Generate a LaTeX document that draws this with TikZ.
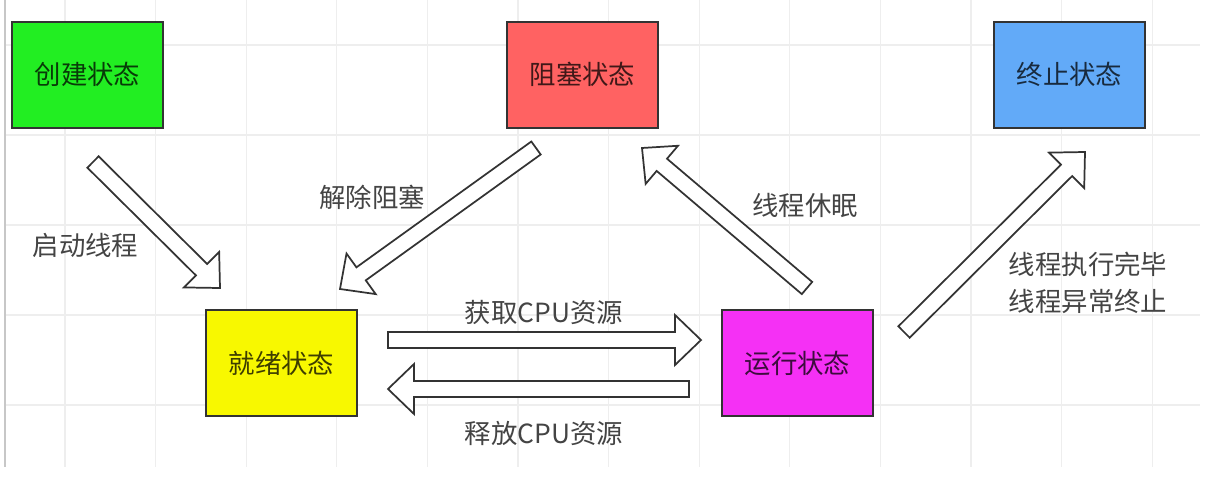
\documentclass[tikz,border=0pt]{standalone}
\usepackage{fontspec}
\setmainfont{Noto Sans CJK SC}
\usetikzlibrary{calc}
\definecolor{cgreen}{HTML}{22EE22}
\definecolor{cred}{HTML}{FF6262}
\definecolor{cblue}{HTML}{62AAF8}
\definecolor{cyellow}{HTML}{F8F800}
\definecolor{cmagenta}{HTML}{F530F5}
\definecolor{edge}{HTML}{333333}
\definecolor{labelgray}{HTML}{444444}
\definecolor{gridc}{HTML}{EEEEEE}
\tikzset{
  statebox/.style={draw=edge, line width=1.5pt, minimum width=113pt, minimum height=79.5pt,
    inner sep=0pt, text=black, text opacity=0.75, font=\fontsize{19.8}{23}\selectfont},
  lbl/.style={text=labelgray, font=\fontsize{19.8}{27.75}\selectfont, inner sep=0pt},
  blockarrow/.style={draw=edge, fill=white, line width=1.3pt, line join=miter},
  gridline/.style={draw=gridc, line width=0.8pt}
}
\newcommand\hollowarrow[3]{%
  \coordinate (#1b) at ($(#3)!19.5pt!(#2)$);
  \draw[blockarrow] ($(#2)!6pt!90:(#3)$) -- ($(#1b)!6pt!90:(#3)$) -- ($(#1b)!18.75pt!90:(#3)$) -- (#3)
    -- ($(#1b)!18.75pt!-90:(#3)$) -- ($(#1b)!6pt!-90:(#3)$) -- ($(#2)!6pt!-90:(#3)$) -- cycle;}
\begin{document}
\begin{tikzpicture}[x=0.75pt, y=-0.75pt]
\useasboundingbox (0,0) rectangle (1226,479);
\fill[white] (0,0) rectangle (1226,479);
% grid
\foreach \i in {0,...,12} \draw[gridline] ({65+90.6*\i},0) -- ({65+90.6*\i},467);
\foreach \j in {45,135,225,315,405} \draw[gridline] (5,\j) -- (1200,\j);
\draw[draw=black!22, line width=1pt] (5,0) -- (5,467);
% states
\node[statebox, fill=cgreen] (create) at (87.5,74.5) {创建状态};
\node[statebox, fill=cred] (blocked) at (582.5,74.5) {阻塞状态};
\node[statebox, fill=cblue] (term) at (1069.5,74.5) {终止状态};
\node[statebox, fill=cyellow] (ready) at (281.5,363) {就绪状态};
\node[statebox, fill=cmagenta] (run) at (797.5,363) {运行状态};
% arrow end points
\coordinate (s1) at (93,162);  \coordinate (t1) at (220,288);
\coordinate (s2) at (536,148); \coordinate (t2) at (340,289);
\coordinate (s3) at (388,340); \coordinate (t3) at (701,340);
\coordinate (s4) at (689,389); \coordinate (t4) at (388,389);
\coordinate (s5) at (807,288); \coordinate (t5) at (642,148);
\coordinate (s6) at (904,332); \coordinate (t6) at (1085,152);
\hollowarrow{a1}{s1}{t1}
\hollowarrow{a2}{s2}{t2}
\hollowarrow{a3}{s3}{t3}
\hollowarrow{a4}{s4}{t4}
\hollowarrow{a5}{s5}{t5}
\hollowarrow{a6}{s6}{t6}
% labels
\node[lbl] (l1) at (85.5,245) {启动线程};
\node[lbl] (l2) at (372,197) {解除阻塞};
\node[lbl] (l3) at (544,312) {获取CPU资源};
\node[lbl] (l4) at (544,433) {释放CPU资源};
\node[lbl] (l5) at (805,205) {线程休眠};
\node[lbl, align=left] (l6) at (1088,283) {线程执行完毕\\线程异常终止};
\end{tikzpicture}
\end{document}
